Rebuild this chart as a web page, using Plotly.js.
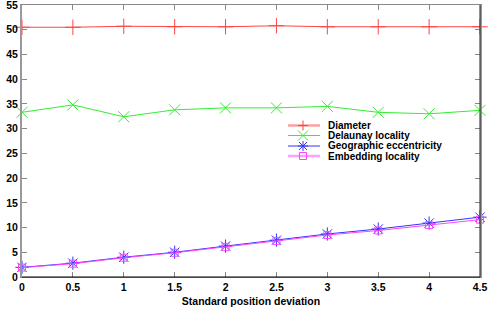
<!DOCTYPE html>
<html><head><meta charset="utf-8">
<script src="https://cdn.plot.ly/plotly-3.0.1.min.js"></script>
<style>html,body{margin:0;padding:0;background:#fff}#c{width:491px;height:314px}</style>
</head><body><div id="c"></div>
<script>
const deviation = [0, 0.5, 1, 1.5, 2, 2.5, 3, 3.5, 4, 4.5];
const xTickLabels = ["0", "0.5", "1", "1.5", "2", "2.5", "3", "3.5", "4", "4.5"];
const yTicks = [0, 5, 10, 15, 20, 25, 30, 35, 40, 45, 50, 55];
const diameter = [50.5, 50.5, 50.7, 50.6, 50.6, 50.8, 50.6, 50.6, 50.6, 50.6];
const delaunay = [33.3, 34.8, 32.4, 33.8, 34.2, 34.2, 34.5, 33.3, 33.0, 33.7];
const geographic = [1.95, 2.8, 4.0, 5.0, 6.25, 7.45, 8.7, 9.7, 10.9, 12.1];
const embedding = [1.9, 2.7, 3.9, 4.9, 6.1, 7.3, 8.5, 9.4, 10.5, 11.6];
const names = ["Diameter", "Delaunay locality", "Geographic eccentricity", "Embedding locality"];
const colors = ["#ff4444", "#33ee33", "#3333ff", "#ff44ff"];
const symbols = ["cross-thin-open", "x-thin-open", "asterisk-open", "square-open"];
const sizes = [11, 11, 11, 7];
const series = [diameter, delaunay, geographic, embedding];

const W = 491, H = 314, L = 22, R = 11, T = 5, B = 37;
const pw = W - L - R, ph = H - T - B;
const px = x => (x - L) / pw, py = y => (H - B - y) / ph;

const traces = series.map((s, i) => ({
  x: deviation, y: s, type: "scatter", mode: "lines+markers", name: names[i],
  line: {color: colors[i], width: 1},
  marker: {symbol: symbols[i], size: sizes[i], color: colors[i], line: {color: colors[i], width: 1}},
  cliponaxis: false, showlegend: false
}));

const shapes = [
  {type: "line", xref: "paper", yref: "paper", x0: 0, x1: 1, y0: 0, y1: 0, line: {color: "#000", width: 1}, layer: "above"},
  {type: "line", xref: "paper", yref: "paper", x0: 1, x1: 1, y0: 0, y1: 1, line: {color: "#222", width: 1}, layer: "above"}
];
const annotations = [];
const rowY = [125.5, 135.5, 146, 156];
const markerPaths = [
  "M-5,0L5,0M0,-5L0,5",
  "M-5,-5L5,5M-5,5L5,-5",
  "M-5,0L5,0M0,-5L0,5M-4,-4L4,4M-4,4L4,-4",
  "M-3.5,-3.5L3.5,-3.5L3.5,3.5L-3.5,3.5Z"
];
names.forEach((n, i) => {
  shapes.push({type: "line", xref: "paper", yref: "paper", x0: px(288), x1: px(320), y0: py(rowY[i]), y1: py(rowY[i]),
    line: {color: colors[i], width: i === 0 || i === 3 ? 2.5 : 1}, opacity: i === 0 || i === 3 ? 0.5 : 1});
  shapes.push({type: "path", xref: "paper", yref: "paper", xsizemode: "pixel", ysizemode: "pixel",
    xanchor: px(303), yanchor: py(rowY[i]), path: markerPaths[i], line: {color: colors[i], width: 1}});
  annotations.push({xref: "paper", yref: "paper", x: px(326), y: py(rowY[i]), xanchor: "left", yanchor: "middle",
    text: n, showarrow: false, font: {family: "Liberation Sans, Arial, sans-serif", size: 10, color: "#000", weight: "bold"}});
});

const tickFont = {family: "Liberation Sans, Arial, sans-serif", size: 10.5, color: "#000", weight: "bold"};
const titleFont = {family: "Liberation Sans, Arial, sans-serif", size: 10.5, color: "#000", weight: "bold"};
const layout = {
  width: W, height: H, margin: {l: L, r: R, t: T, b: B},
  paper_bgcolor: "#fff", plot_bgcolor: "#fff", showlegend: false,
  xaxis: {range: [0, 4.5], tickvals: deviation, ticktext: xTickLabels, ticks: "inside", ticklen: 5,
    tickcolor: "#888", showline: true, mirror: "ticks", linecolor: "#888", linewidth: 1, showgrid: false, zeroline: false,
    tickfont: tickFont, title: {text: "Standard position deviation", font: titleFont, standoff: 6}},
  yaxis: {range: [0, 55], tickvals: yTicks, ticktext: yTicks.map(String), ticks: "inside", ticklen: 5, tickcolor: "#888",
    showline: true, mirror: "ticks", linecolor: "#999", linewidth: 2, showgrid: false, zeroline: false, tickfont: tickFont,
    ticklabeloverflow: "allow"},
  shapes: shapes, annotations: annotations
};
Plotly.newPlot("c", traces, layout, {staticPlot: true, displayModeBar: false});
</script></body></html>
